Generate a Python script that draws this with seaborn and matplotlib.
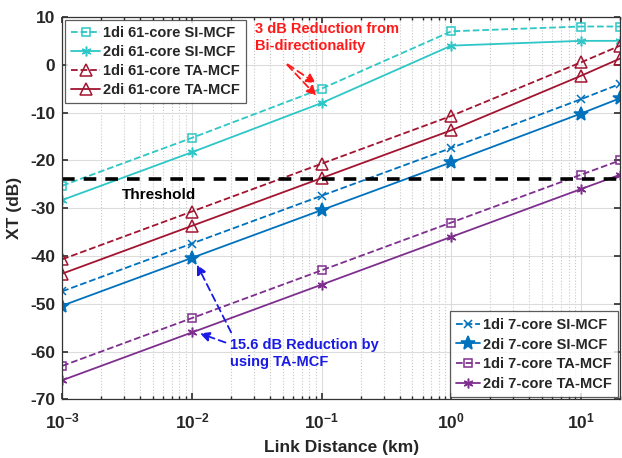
import numpy as np
import pandas as pd
import seaborn as sns
import matplotlib
matplotlib.use("Agg")
import matplotlib.pyplot as plt
from matplotlib.ticker import LogLocator, NullFormatter

# Link distances (km)
distance = [1e-3, 1e-2, 1e-1, 1e0, 1e1, 20]

# Crosstalk (dB) for each fibre / direction configuration
xt_1di_61_si = [-25.3, -15.3, -5.0, 7.0, 8.0, 8.0]
xt_2di_61_si = [-28.3, -18.3, -8.0, 4.0, 5.0, 5.0]
xt_1di_61_ta = [-40.7, -30.7, -20.7, -10.7, 0.5, 4.0]
xt_2di_61_ta = [-43.7, -33.7, -23.7, -13.7, -2.3, 1.3]
xt_1di_7_si = [-47.4, -37.4, -27.4, -17.4, -7.2, -4.0]
xt_2di_7_si = [-50.4, -40.4, -30.4, -20.4, -10.2, -7.0]
xt_1di_7_ta = [-63.0, -53.0, -43.0, -33.0, -23.0, -20.0]
xt_2di_7_ta = [-66.0, -56.0, -46.0, -36.0, -26.0, -23.0]

threshold_db = -24

CYAN = "#2EC6C6"
RED = "#A2142F"
BLUE = "#0072BD"
PURPLE = "#7E2F8E"
ASTERISK = (6, 2, 0)

series = [
    ("1di 61-core SI-MCF", xt_1di_61_si, CYAN, "--", "s", 6),
    ("2di 61-core SI-MCF", xt_2di_61_si, CYAN, "-", ASTERISK, 7),
    ("1di 61-core TA-MCF", xt_1di_61_ta, RED, "--", "^", 9),
    ("2di 61-core TA-MCF", xt_2di_61_ta, RED, "-", "^", 9),
    ("1di 7-core SI-MCF", xt_1di_7_si, BLUE, "--", "x", 6),
    ("2di 7-core SI-MCF", xt_2di_7_si, BLUE, "-", "*", 10),
    ("1di 7-core TA-MCF", xt_1di_7_ta, PURPLE, "--", "s", 6),
    ("2di 7-core TA-MCF", xt_2di_7_ta, PURPLE, "-", ASTERISK, 7),
]

sns.set_theme(style="white")
plt.rcParams["font.family"] = ["Liberation Sans", "DejaVu Sans"]
plt.rcParams["font.weight"] = "bold"
plt.rcParams["axes.unicode_minus"] = False
plt.rcParams["mathtext.fontset"] = "custom"
plt.rcParams["mathtext.rm"] = "Liberation Sans:bold"
plt.rcParams["mathtext.bf"] = "Liberation Sans:bold"
plt.rcParams["mathtext.default"] = "bf"

fig = plt.figure(figsize=(6.22, 4.58), dpi=100)
ax = fig.add_axes([0.1, 0.128, 0.897, 0.835])

handles = []
for label, vals, color, ls, mk, ms in series:
    df = pd.DataFrame({"d": distance, "xt": vals})
    hollow = mk in ("s", "^")
    sns.lineplot(data=df, x="d", y="xt", ax=ax, color=color, linestyle=ls,
                 linewidth=1.3, marker=mk, markersize=ms,
                 markerfacecolor="none" if hollow else color,
                 markeredgecolor=color, markeredgewidth=1.1,
                 dashes=False if ls == "-" else (6, 3.5), label=label,
                 legend=False)
    handles.append(ax.lines[-1])

ax.axhline(threshold_db, color="black", linestyle=(0, (3.5, 2.5)), linewidth=2.6)
ax.text(0.0029, -27.2, "Threshold", fontsize=11, fontweight="bold",
        color="black", va="center")

ax.set_xscale("log")
ax.set_xlim(1e-3, 20)
ax.set_ylim(-70, 10)
ax.set_yticks(np.arange(-70, 11, 10))
ax.xaxis.set_major_locator(LogLocator(base=10, numticks=10))
ax.xaxis.set_minor_locator(LogLocator(base=10, subs=np.arange(2, 10), numticks=20))
ax.xaxis.set_minor_formatter(NullFormatter())

ax.grid(True, which="major", color="#DCDCDC", linewidth=0.8)
ax.grid(True, which="minor", axis="x", color="#C8C8C8", linestyle=":", linewidth=0.8)
ax.set_axisbelow(True)

for s in ax.spines.values():
    s.set_color("#333333")
    s.set_linewidth(0.9)
ax.tick_params(axis="both", which="major", labelsize=12.5, direction="in",
               length=4, color="#333333", bottom=True, left=True, top=True, right=True)
ax.tick_params(axis="x", which="major", pad=9)
ax.tick_params(axis="y", which="major", pad=5)
ax.tick_params(axis="x", which="minor", direction="in", length=2,
               bottom=True, top=True)
for lab in ax.get_xticklabels() + ax.get_yticklabels():
    lab.set_fontweight("bold")

ax.set_xlabel("Link Distance (km)", fontsize=12.5, fontweight="bold", labelpad=6)
ax.set_ylabel("XT (dB)", fontsize=12.5, fontweight="bold", labelpad=6)

leg1 = ax.legend(handles=handles[:4], loc="upper left",
                 prop={"weight": "bold", "size": 10.5}, frameon=True,
                 fancybox=False, edgecolor="#333333", handlelength=2.0,
                 borderaxespad=0.2, labelspacing=0.35, handletextpad=0.2,
                 borderpad=0.4)
leg1.get_frame().set_linewidth(0.9)
ax.add_artist(leg1)
leg2 = ax.legend(handles=handles[4:], loc="lower right",
                 prop={"weight": "bold", "size": 10.5}, frameon=True,
                 fancybox=False, edgecolor="#333333", handlelength=1.6,
                 borderaxespad=0.15, labelspacing=0.38, handletextpad=0.2,
                 borderpad=0.45)
leg2.get_frame().set_linewidth(0.9)

# Annotation: bi-directional reduction
ax.text(0.0307, 9.0, "3 dB Reduction from\nBi-directionality", color="#FF1A1A",
        fontsize=10.5, fontweight="bold", va="top", linespacing=1.3)
for target in [(0.094, -4.2), (0.094, -6.9)]:
    ax.annotate("", xy=target, xytext=(0.0525, 0.4),
                arrowprops=dict(arrowstyle="-|>", color="#FF1A1A", lw=1.3,
                                linestyle=(0, (4, 2.5)), mutation_scale=14))

# Annotation: trench-assisted reduction
ax.text(0.0195, -57.2, "15.6 dB Reduction by\nusing TA-MCF", color="#1A1AE6",
        fontsize=10.5, fontweight="bold", va="top", linespacing=1.3)
ax.annotate("", xy=(0.0107, -41.3), xytext=(0.0205, -56.5),
            arrowprops=dict(arrowstyle="-|>", color="#1A1AE6", lw=1.3,
                            linestyle=(0, (4, 2.5)), mutation_scale=14))
ax.annotate("", xy=(0.011, -56.0), xytext=(0.019, -58.3),
            arrowprops=dict(arrowstyle="-|>", color="#1A1AE6", lw=1.3,
                            linestyle=(0, (4, 2.5)), mutation_scale=14))

fig.savefig("out.png", dpi=100, facecolor="white")
